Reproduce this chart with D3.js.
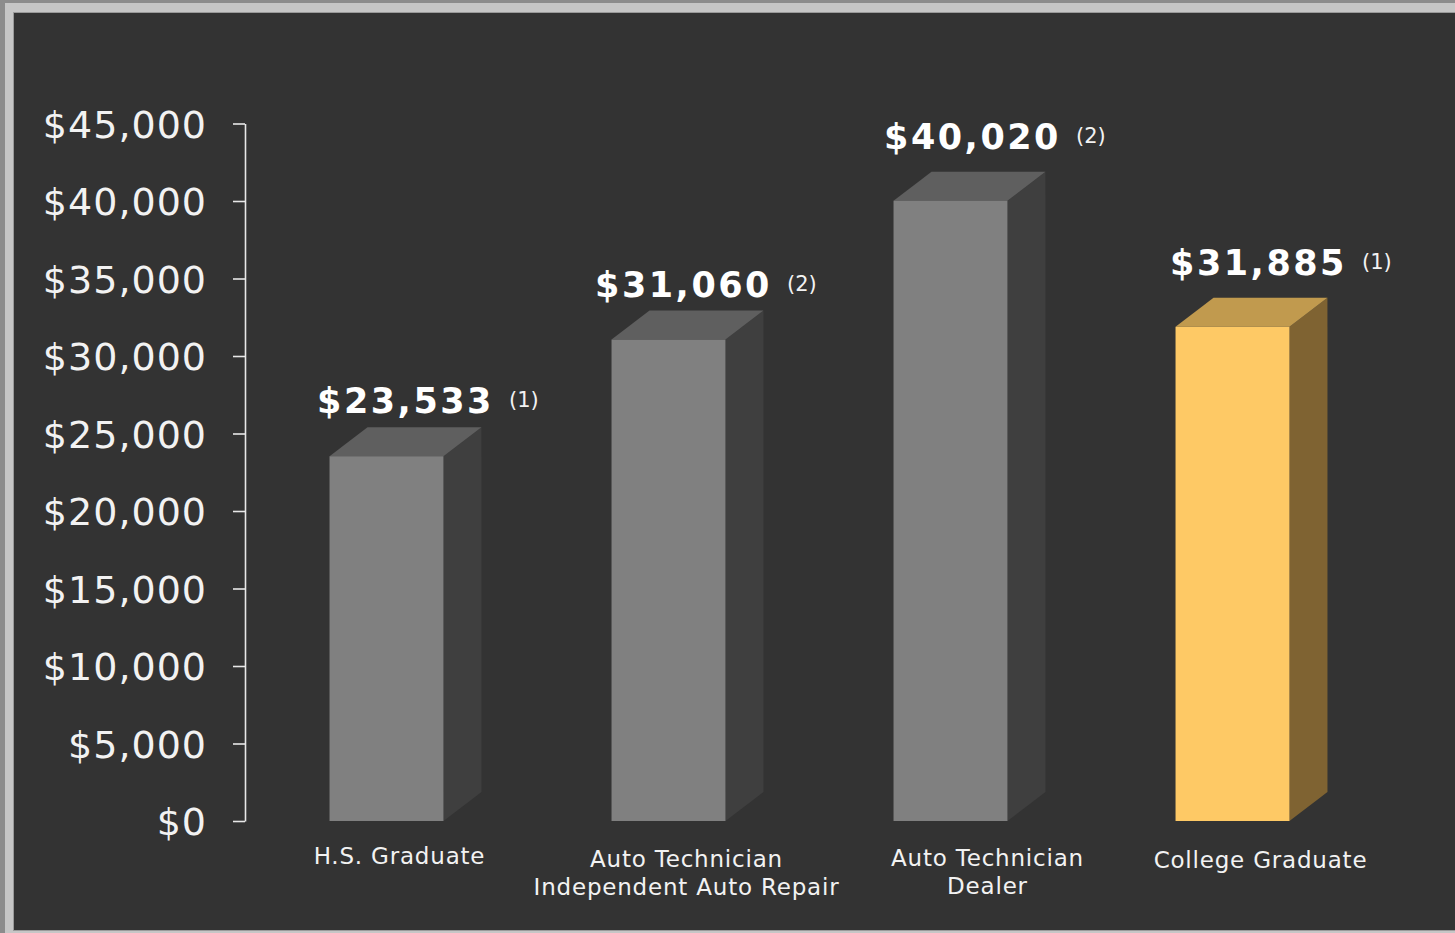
<!DOCTYPE html>
<html>
<head>
<meta charset="utf-8">
<script src="https://cdn.jsdelivr.net/npm/d3@7"></script>
<style>
  html, body { margin: 0; padding: 0; background: #8c8c8c; }
  svg { display: block; }
  text { font-family: "DejaVu Sans", Verdana, sans-serif; }
</style>
</head>
<body>
<svg id="chart" width="1455" height="933"></svg>
<script>
// Average starting salaries
const categories = [
  ["H.S. Graduate"],
  ["Auto Technician", "Independent Auto Repair"],
  ["Auto Technician", "Dealer"],
  ["College Graduate"]
];
const salaries = [23533, 31060, 40020, 31885];
const footnotes = ["(1)", "(2)", "(2)", "(1)"];
const highlighted = [false, false, false, true];
const yTicks = [0, 5000, 10000, 15000, 20000, 25000, 30000, 35000, 40000, 45000];

// hand placement of the annotations around each column (pixels)
const valueNudge = [[19, 43], [15, 43], [22, 52], [26, 52]];
const categoryNudge = [[13, 864], [18, 867], [37, 866], [28, 868]];

const W = 1455, H = 933;
const svg = d3.select("#chart");

// frame: light bevel around a dark panel
svg.append("rect").attr("x", 0).attr("y", 0).attr("width", W).attr("height", H).attr("fill", "#8c8c8c");
svg.append("rect").attr("x", 5).attr("y", 3).attr("width", W - 5).attr("height", H - 3).attr("fill", "#c6c6c6");
svg.append("rect").attr("x", 13).attr("y", 12).attr("width", W - 13).attr("height", 919).attr("fill", "#9a9a9a");
svg.append("rect").attr("x", 14).attr("y", 13).attr("width", W - 14).attr("height", 917).attr("fill", "#333333");

const y = d3.scaleLinear().domain([0, 45000]).range([821, 123.5]);
const x = d3.scaleBand()
  .domain(d3.range(salaries.length))
  .range([245.5, 1373.5])
  .paddingInner(0.596)
  .paddingOuter(0.298);

// y axis
const axis = svg.append("g")
  .attr("transform", "translate(245,0)")
  .call(d3.axisLeft(y)
    .tickValues(yTicks)
    .tickSize(12)
    .tickSizeOuter(0)
    .tickPadding(26)
    .tickFormat(d => "$" + d3.format(",")(d)));
axis.select(".domain").attr("stroke", "#e8e8e8").attr("stroke-width", 1.6);
axis.selectAll(".tick line").attr("stroke", "#e8e8e8").attr("stroke-width", 1.6);
axis.selectAll(".tick text")
  .attr("fill", "#f2f2f2")
  .attr("font-size", 38)
  .attr("letter-spacing", "1px")
  .attr("dy", "0.36em")
  .style("font-family", '"DejaVu Sans", Verdana, sans-serif');

// 3D column depth
const dx = 38, dy = 29;
const palette = {
  grey: { front: "#808080", top: "#5f5f5f", side: "#3f3f3f" },
  gold: { front: "#fec965", top: "#c19a4e", side: "#7f6332" }
};

const bars = svg.append("g").selectAll("g")
  .data(salaries)
  .join("g");

bars.each(function (v, i) {
  const g = d3.select(this);
  const c = highlighted[i] ? palette.gold : palette.grey;
  const x0 = x(i), x1 = x(i) + x.bandwidth();
  const mid = x0 + x.bandwidth() / 2;
  const yt = y(v), yb = y(0);
  g.append("polygon")
    .attr("points", [[x1, yt], [x1 + dx, yt - dy], [x1 + dx, yb - dy], [x1, yb]].join(" "))
    .attr("fill", c.side);
  g.append("polygon")
    .attr("points", [[x0, yt], [x0 + dx, yt - dy], [x1 + dx, yt - dy], [x1, yt]].join(" "))
    .attr("fill", c.top);
  g.append("rect")
    .attr("x", x0).attr("y", yt)
    .attr("width", x.bandwidth()).attr("height", yb - yt)
    .attr("fill", c.front);

  // value label with footnote marker
  const cx = mid + valueNudge[i][0];
  const base = yt - valueNudge[i][1];
  const lbl = g.append("text")
    .attr("x", cx).attr("y", base)
    .attr("text-anchor", "middle")
    .attr("font-size", 35)
    .attr("font-weight", "bold")
    .attr("letter-spacing", "2.5px")
    .attr("fill", "#ffffff")
    .text("$" + d3.format(",")(v));
  const len = lbl.node().getComputedTextLength();
  g.append("text")
    .attr("x", cx + len / 2 + 15).attr("y", base - 6)
    .attr("font-size", 21)
    .attr("fill", "#f2f2f2")
    .text(footnotes[i]);

  // category label
  const lx = mid + categoryNudge[i][0];
  const t = g.append("text")
    .attr("x", lx)
    .attr("y", categoryNudge[i][1])
    .attr("text-anchor", "middle")
    .attr("font-size", 23)
    .attr("letter-spacing", "0.8px")
    .attr("fill", "#f2f2f2");
  categories[i].forEach((line, k) => {
    t.append("tspan")
      .attr("x", lx)
      .attr("dy", k === 0 ? 0 : 28)
      .text(line);
  });
});
</script>
</body>
</html>
